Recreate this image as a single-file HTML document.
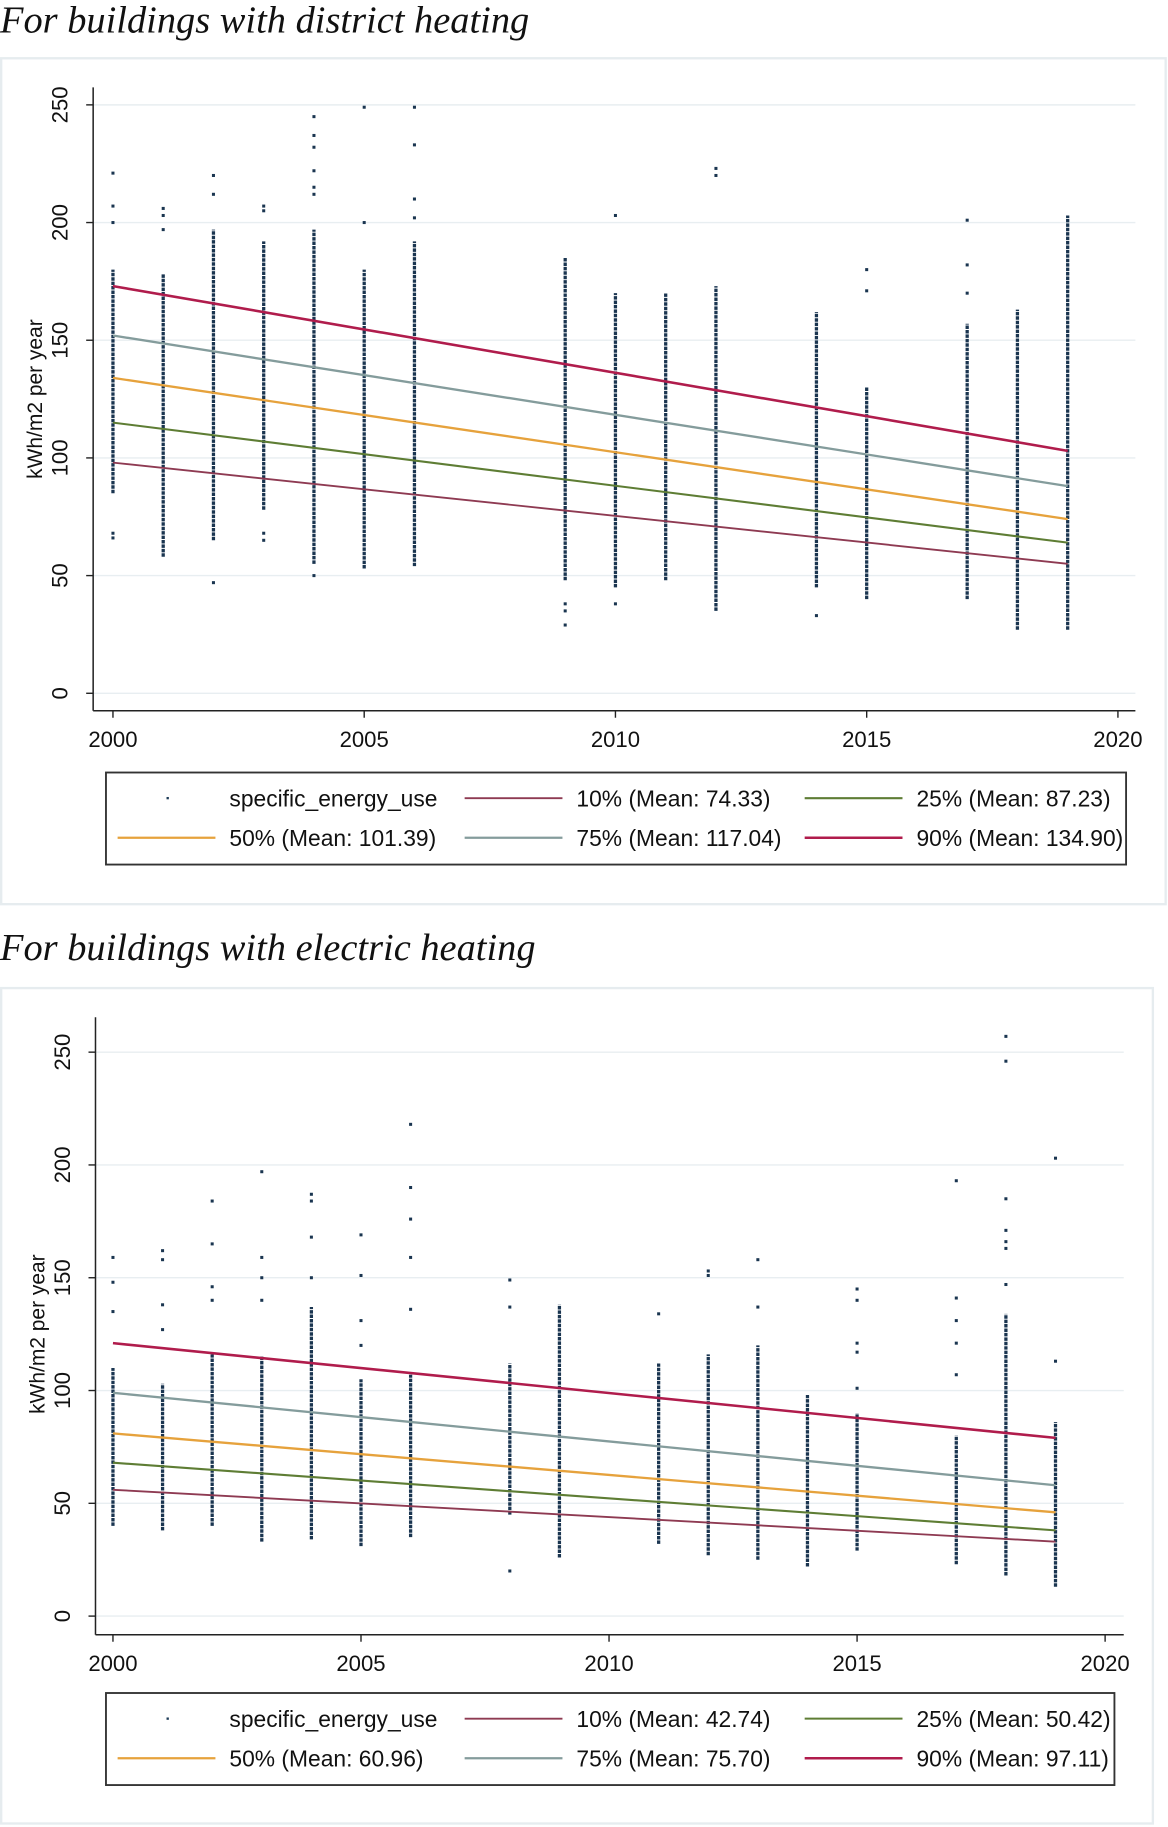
<!DOCTYPE html>
<html><head><meta charset="utf-8"><style>
html,body{margin:0;padding:0;background:#fff;}
svg{display:block;}
text{font-family:"Liberation Sans",sans-serif;fill:#111;}
.title{font-family:"Liberation Serif",serif;font-style:italic;font-size:33px;}
</style></head><body>
<svg id="root" width="1168" height="1827" viewBox="0 0 1003 1568" preserveAspectRatio="none" xmlns="http://www.w3.org/2000/svg">
<text class="title" x="0" y="28">For buildings with district heating</text>
<text class="title" x="0" y="824">For buildings with electric heating</text>
</svg>
<script>
// ---------- Chart 1 data: district heating ----------
const dhYears = [2000,2001,2002,2003,2004,2005,2006,2009,2010,2011,2012,2014,2015,2017,2018,2019];
const dhCoreLo = [85,58,65,78,55,53,54,48,45,48,35,45,40,40,27,27];
const dhCoreHi = [180,178,197,192,197,180,192,185,170,170,173,162,130,157,163,203];
const dhOutliers = [[221,207,200,68,66],[206,203,197],[220,212,47],[207,205,68,65],[245,237,232,222,215,212,50],[249,200],[249,233,210,202],[38,35,29],[203,38],[],[223,220],[33],[180,171],[201,182,170],[],[]];
const dhQ10 = [98,55];
const dhQ25 = [115,64];
const dhQ50 = [134,74];
const dhQ75 = [152,88];
const dhQ90 = [173,103];
const dhLegend = ['10% (Mean: 74.33)','25% (Mean: 87.23)','50% (Mean: 101.39)','75% (Mean: 117.04)','90% (Mean: 134.90)'];
// ---------- Chart 2 data: electric heating ----------
const ehYears = [2000,2001,2002,2003,2004,2005,2006,2008,2009,2011,2012,2013,2014,2015,2017,2018,2019];
const ehCoreLo = [40,38,40,33,34,31,35,45,26,32,27,25,22,29,23,18,13];
const ehCoreHi = [110,103,116,115,137,105,107,112,138,112,116,120,98,90,80,134,86];
const ehOutliers = [[159,148,135],[162,158,138,127],[184,165,146,140],[197,159,150,140],[187,184,168,150],[169,151,131,120],[218,190,176,159,136],[149,137,20],[],[134],[153,151],[158,137],[],[145,140,121,117,101],[193,141,131,121,107],[257,246,185,171,166,163,147],[203,113]];
const ehQ10 = [56,33];
const ehQ25 = [68,38];
const ehQ50 = [81,46];
const ehQ75 = [99,58];
const ehQ90 = [121,79];
const ehLegend = ['10% (Mean: 42.74)','25% (Mean: 50.42)','50% (Mean: 60.96)','75% (Mean: 75.70)','90% (Mean: 97.11)'];
const yTicks = [0,50,100,150,200,250];
const xTicks = [2000,2005,2010,2015,2020];
const qColors = ['#8e3a52','#5e7d34','#e6a23c','#849c9c','#b01c4c'];
const qWidths = [1.6,1.8,2,2,2.2];

const NS='http://www.w3.org/2000/svg';
const root=document.getElementById('root');
function mk(tag,attrs,parent){const e=document.createElementNS(NS,tag);for(const k in attrs)e.setAttribute(k,attrs[k]);(parent||root).appendChild(e);return e;}

function drawChart(c){
  const g=mk('g',{});
  
  
  const panel=mk('rect',{x:c.panel[0],y:c.panel[1],width:c.panel[2],height:c.panel[3],fill:'#fff',stroke:'#e6ecef','stroke-width':2},g);
  
  
  const X=v=>c.x0+(v-2000)*(c.x1-c.x0)/20;
  const Y=v=>c.y0-v*(c.y0-c.y250)/250;
  yTicks.forEach(t=>{
    const gl=mk('line',{x1:c.axX,x2:c.right,y1:Y(t),y2:Y(t),stroke:'#e8eef1','stroke-width':1.2},g);
    
    
    mk('line',{x1:c.axX-6,x2:c.axX,y1:Y(t),y2:Y(t),stroke:'#222','stroke-width':1.2},g);
    const tl=mk('text',{x:0,y:0,'font-size':19,'text-anchor':'middle',transform:`translate(${c.axX-22},${Y(t)}) rotate(-90)`},g);
    tl.textContent=t;
    
    
  });
  xTicks.forEach(t=>{
    mk('line',{x1:X(t),x2:X(t),y1:c.axY,y2:c.axY+6,stroke:'#222','stroke-width':1.2},g);
    const tl=mk('text',{x:X(t),y:c.axY+31,'font-size':19,'text-anchor':'middle'},g);
    tl.textContent=t;
    
    
  });
  const ya=mk('line',{x1:c.axX,x2:c.axX,y1:c.axTop,y2:c.axY,stroke:'#222','stroke-width':1.3},g);
  
  
  const xa=mk('line',{x1:c.axX,x2:c.right,y1:c.axY,y2:c.axY,stroke:'#222','stroke-width':1.3},g);
  
  
  const yt=mk('text',{x:0,y:0,'font-size':18,'text-anchor':'middle',transform:`translate(${c.axX-44},${Y(125)}) rotate(-90)`},g);
  yt.textContent='kWh/m2 per year';
  
  
  // scatter
  c.years.forEach((yr,i)=>{
    const core=mk('line',{x1:X(yr),x2:X(yr),y1:Y(c.lo[i]),y2:Y(c.hi[i]),stroke:'#1a3550','stroke-width':2.8,'stroke-dasharray':'3 0.8'},g);
    
    
    c.out[i].forEach(v=>{
      const d=mk('rect',{x:X(yr)-1.3,y:Y(v)-1.3,width:2.6,height:2.6,fill:'#1a3550'},g);
      
      
    });
  });
  // quantile lines
  c.q.forEach((q,i)=>{
    const l=mk('line',{x1:X(2000),x2:X(2019),y1:Y(q[0]),y2:Y(q[1]),stroke:qColors[i],'stroke-width':qWidths[i]},g);
    
    
  });
  // legend
  const L=c.leg;
  const lb=mk('rect',{x:L[0],y:L[1],width:L[2],height:L[3],fill:'#fff',stroke:'#333','stroke-width':1.6},g);
  
  
  const r1=L[1]+22,r2=L[1]+56;
  const entries=[[0,r1,-1,'specific_energy_use'],[1,r1,0,c.legend[0]],[2,r1,1,c.legend[1]],[0,r2,2,c.legend[2]],[1,r2,3,c.legend[3]],[2,r2,4,c.legend[4]]];
  const colX=[L[0]+10,L[0]+308,L[0]+600];
  entries.forEach(e=>{
    const x=colX[e[0]];
    if(e[2]<0){
      const d=mk('rect',{x:x+42,y:e[1]-1,width:2,height:2,fill:'#1d3b57'},g);
      
      
    } else {
      const s=mk('line',{x1:x,x2:x+84,y1:e[1],y2:e[1],stroke:qColors[e[2]],'stroke-width':qWidths[e[2]]},g);
      
      
    }
    const t=mk('text',{x:x+96,y:e[1]+7,'font-size':19.6},g);
    t.textContent=e[3];
    
    
  });
}
drawChart({name:'district-heating-chart',panel:[1,50,1000,726],x0:97,x1:960,y0:595,y250:90,axX:80,axY:610,axTop:75,right:975,
  years:dhYears,lo:dhCoreLo,hi:dhCoreHi,out:dhOutliers,q:[dhQ10,dhQ25,dhQ50,dhQ75,dhQ90],legend:dhLegend,leg:[91,663,876,79]});
drawChart({name:'electric-heating-chart',panel:[1,848,989,717],x0:97,x1:949,y0:1387,y250:903,axX:82,axY:1403,axTop:873,right:965,
  years:ehYears,lo:ehCoreLo,hi:ehCoreHi,out:ehOutliers,q:[ehQ10,ehQ25,ehQ50,ehQ75,ehQ90],legend:ehLegend,leg:[91,1453,866,79]});
</script>
</body></html>
